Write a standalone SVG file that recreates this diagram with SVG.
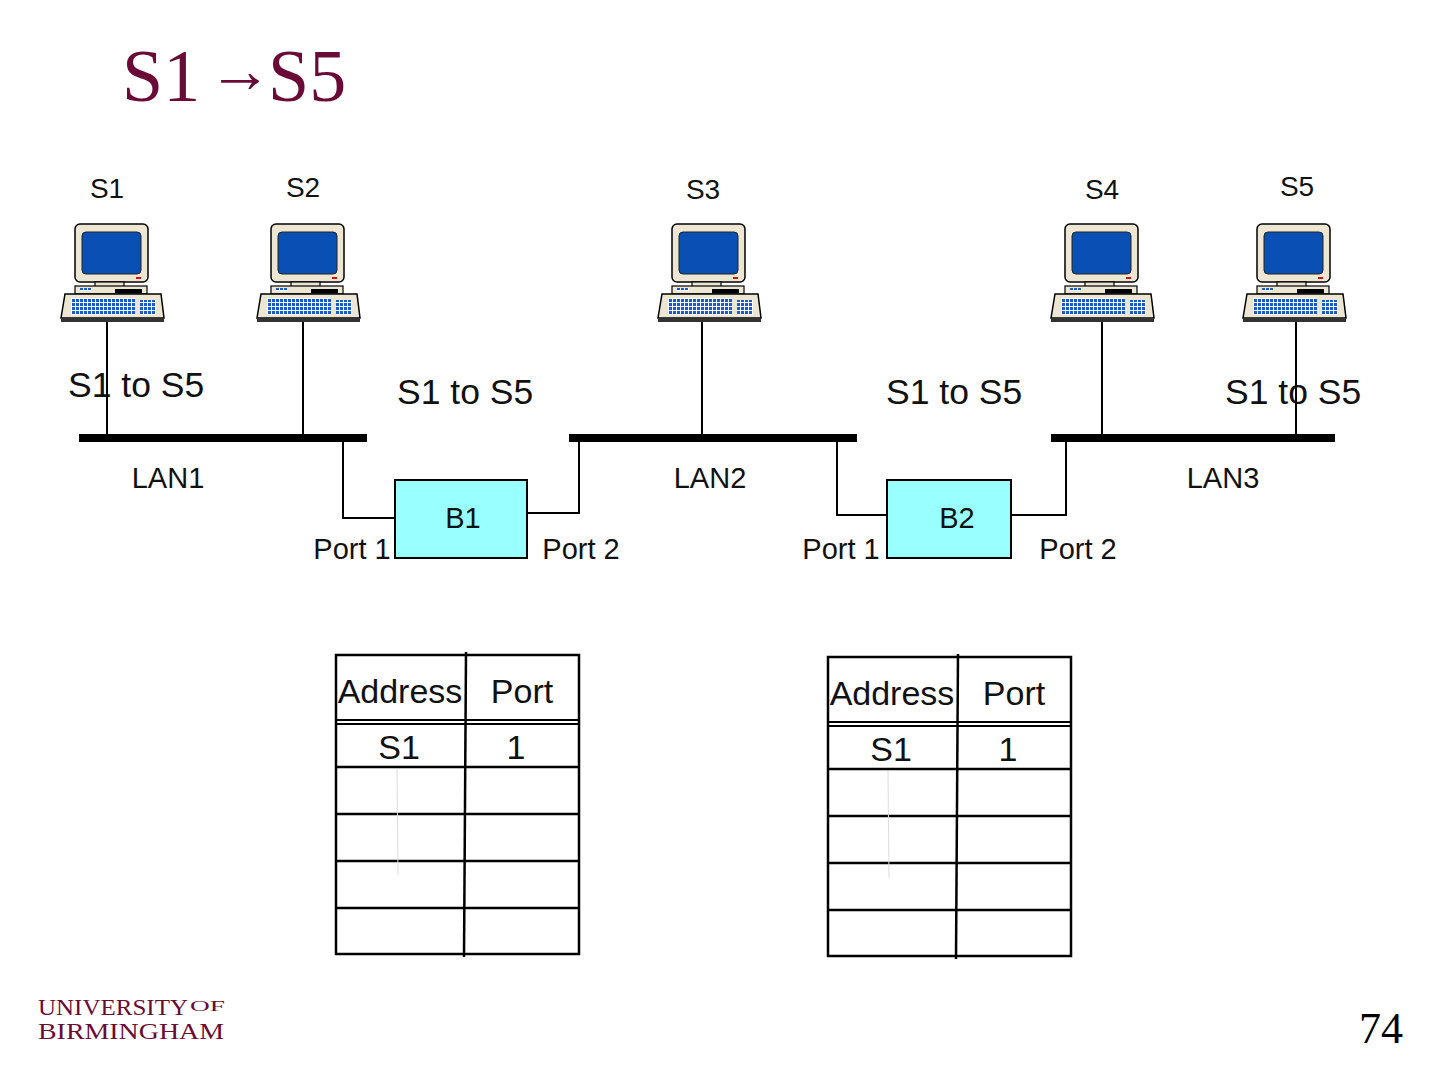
<svg xmlns="http://www.w3.org/2000/svg" width="1440" height="1080" viewBox="0 0 1440 1080">
<style>
.t{font-family:"Liberation Sans",Arial,sans-serif;fill:#111}
.lbl{font-size:29px;text-anchor:middle}
.sl{font-size:28px;text-anchor:middle}
.msg{font-size:35.5px}
.tbl{font-size:34px;text-anchor:middle}
.ln{stroke:#000;stroke-width:2;fill:none}
.bar{fill:#000}
.bridge{fill:#99ffff;stroke:#000;stroke-width:2}
.grid{stroke:#000;stroke-width:2.5;fill:none}
.maroon{font-family:"Liberation Serif","Times New Roman",serif;fill:#6a0a36}
</style>
<defs>
<pattern id="keys" x="0" y="0" width="4" height="4" patternUnits="userSpaceOnUse">
<rect width="4" height="4" fill="#fff"/>
<rect x="0" y="0" width="3" height="3" fill="#1a5ad0"/>
</pattern>
<symbol id="pc" viewBox="0 0 106 101" width="106" height="101">
<rect x="15" y="1" width="73" height="58" rx="5" fill="#ece6d2" stroke="#000" stroke-width="1.5"/>
<rect x="22" y="9" width="59" height="42" rx="4" fill="#0a50b4" stroke="#222" stroke-width="1"/>
<rect x="76" y="54" width="5" height="2" fill="#d01010"/>
<rect x="35" y="59" width="29" height="5" fill="#ece6d2" stroke="#000" stroke-width="1.2"/>
<rect x="15" y="63" width="72" height="8" fill="#ece6d2" stroke="#000" stroke-width="1.2"/>
<rect x="20" y="65" width="12" height="3" fill="url(#keys)"/>
<rect x="55" y="66" width="27" height="4" fill="#000"/>
<polygon points="5,71 101,71 104,95 1,95" fill="#ece6d2" stroke="#000" stroke-width="1.5"/>
<rect x="1" y="95" width="103" height="4" fill="#333"/>
<rect x="11" y="75" width="64" height="17" fill="url(#keys)"/>
<rect x="80" y="77" width="16" height="15" fill="url(#keys)"/>
</symbol>
</defs>
<rect width="1440" height="1080" fill="#fff"/>

<g id="title">
<text class="maroon" x="122" y="101" font-size="74">S1</text>
<text class="maroon" x="208" y="92" font-size="64">→</text>
<text class="maroon" x="268" y="101" font-size="74">S5</text>
</g>

<g id="connectors">
<line class="ln" x1="107" y1="320" x2="107" y2="438"/>
<line class="ln" x1="303" y1="320" x2="303" y2="438"/>
<line class="ln" x1="702" y1="320" x2="702" y2="442"/>
<line class="ln" x1="1102" y1="320" x2="1102" y2="442"/>
<line class="ln" x1="1296" y1="320" x2="1296" y2="442"/>
<polyline class="ln" points="343,438 343,518 395,518"/>
<polyline class="ln" points="527,513 579,513 579,438"/>
<polyline class="ln" points="837,438 837,515 887,515"/>
<polyline class="ln" points="1011,515 1066,515 1066,438"/>
</g>

<g id="LAN1"><rect class="bar" x="79" y="434" width="288" height="8"/><text class="t lbl" x="168" y="488">LAN1</text></g>
<g id="LAN2"><rect class="bar" x="569" y="434" width="288" height="8"/><text class="t lbl" x="710" y="488">LAN2</text></g>
<g id="LAN3"><rect class="bar" x="1051" y="434" width="284" height="8"/><text class="t lbl" x="1223" y="488">LAN3</text></g>

<g id="S1"><use href="#pc" x="60" y="223"/><text class="t sl" x="107" y="198">S1</text></g>
<g id="S2"><use href="#pc" x="256" y="223"/><text class="t sl" x="303" y="197">S2</text></g>
<g id="S3"><use href="#pc" x="657" y="223"/><text class="t sl" x="703" y="199">S3</text></g>
<g id="S4"><use href="#pc" x="1050" y="223"/><text class="t sl" x="1102" y="199">S4</text></g>
<g id="S5"><use href="#pc" x="1242" y="223"/><text class="t sl" x="1297" y="196">S5</text></g>

<g id="messages">
<text class="t msg" x="68" y="397">S1 to S5</text>
<text class="t msg" x="397" y="404">S1 to S5</text>
<text class="t msg" x="886" y="404">S1 to S5</text>
<text class="t msg" x="1225" y="404">S1 to S5</text>
</g>

<g id="B1">
<rect class="bridge" x="395" y="480" width="132" height="78"/>
<text class="t lbl" x="463" y="528">B1</text>
<text class="t lbl" x="352" y="559">Port 1</text>
<text class="t lbl" x="581" y="559">Port 2</text>
</g>
<g id="B2">
<rect class="bridge" x="887" y="480" width="124" height="78"/>
<text class="t lbl" x="957" y="528">B2</text>
<text class="t lbl" x="841" y="559">Port 1</text>
<text class="t lbl" x="1078" y="559">Port 2</text>
</g>

<g id="table1">
<rect class="grid" x="336" y="655" width="243" height="299"/>
<line class="grid" x1="466" y1="652" x2="464" y2="957"/>
<line x1="336" y1="720" x2="579" y2="720" stroke="#000" stroke-width="2"/>
<line x1="336" y1="724" x2="579" y2="724" stroke="#000" stroke-width="2"/>
<line class="grid" x1="336" y1="767" x2="579" y2="767"/>
<line class="grid" x1="336" y1="814" x2="579" y2="814"/>
<line class="grid" x1="336" y1="861" x2="579" y2="861"/>
<line class="grid" x1="336" y1="908" x2="579" y2="908"/>
<line x1="397" y1="769" x2="398" y2="875" stroke="#ddd" stroke-width="1"/>
<text class="t tbl" x="400" y="703">Address</text>
<text class="t tbl" x="522" y="703">Port</text>
<text class="t tbl" x="399" y="759">S1</text>
<text class="t tbl" x="516" y="759">1</text>
</g>

<g id="table2">
<rect class="grid" x="828" y="657" width="243" height="299"/>
<line class="grid" x1="958" y1="654" x2="956" y2="959"/>
<line x1="828" y1="722" x2="1071" y2="722" stroke="#000" stroke-width="2"/>
<line x1="828" y1="726" x2="1071" y2="726" stroke="#000" stroke-width="2"/>
<line class="grid" x1="828" y1="769" x2="1071" y2="769"/>
<line class="grid" x1="828" y1="816" x2="1071" y2="816"/>
<line class="grid" x1="828" y1="863" x2="1071" y2="863"/>
<line class="grid" x1="828" y1="910" x2="1071" y2="910"/>
<line x1="888" y1="771" x2="889" y2="878" stroke="#ddd" stroke-width="1"/>
<text class="t tbl" x="892" y="705">Address</text>
<text class="t tbl" x="1014" y="705">Port</text>
<text class="t tbl" x="891" y="761">S1</text>
<text class="t tbl" x="1008" y="761">1</text>
</g>

<g id="logo">
<text class="maroon" x="38" y="1015" font-size="23.5" textLength="150" lengthAdjust="spacingAndGlyphs">UNIVERSITY</text>
<text class="maroon" x="190" y="1011" font-size="15" textLength="35" lengthAdjust="spacingAndGlyphs">OF</text>
<text class="maroon" x="38" y="1039" font-size="23.5" textLength="186" lengthAdjust="spacingAndGlyphs">BIRMINGHAM</text>
</g>

<g id="pagenum"><text x="1403" y="1043" font-family="Liberation Serif,serif" font-size="44" text-anchor="end" fill="#000">74</text></g>
</svg>
